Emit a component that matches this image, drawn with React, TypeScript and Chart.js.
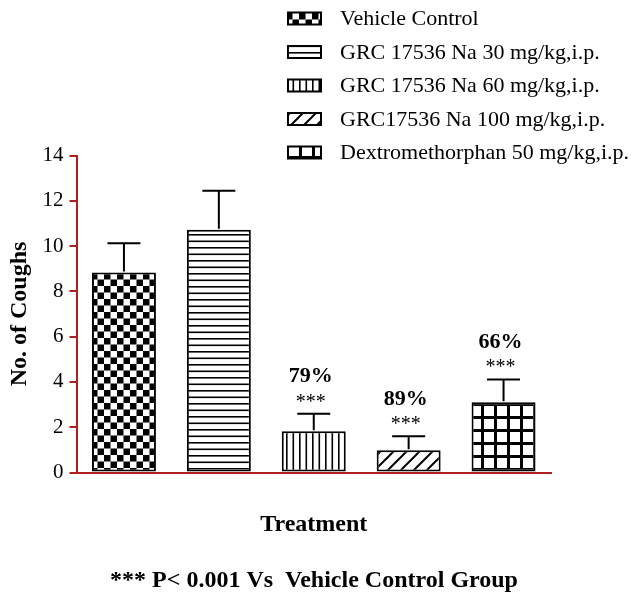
import { useEffect, useRef } from "react";
import { Chart, registerables } from "chart.js";

Chart.register(...registerables);

// ---- data ----
const categories = [
  "Vehicle Control",
  "GRC 17536 Na 30 mg/kg,i.p.",
  "GRC 17536 Na 60 mg/kg,i.p.",
  "GRC17536 Na 100 mg/kg,i.p.",
  "Dextromethorphan 50 mg/kg,i.p.",
];
const coughs = [8.83, 10.72, 1.82, 0.98, 3.1];
const sem = [1.3, 1.72, 0.77, 0.62, 1.01];
const percentLabels = ["", "", "79%", "89%", "66%"];
const significance = ["", "", "***", "***", "***"];
const patternKinds = ["checker", "hlines", "vlines", "diag", "grid"];
const yMin = 0;
const yMax = 14;
const yStep = 2;
const xTitle = "Treatment";
const yTitle = "No. of Coughs";
const footnote = "*** P< 0.001 Vs  Vehicle Control Group";

const SERIF = '"Liberation Serif", "Times New Roman", serif';
const AXIS_RED = "#b01e1e";

function makePattern(kind: string): CanvasPattern | string {
  const c = document.createElement("canvas");
  const ctx = c.getContext("2d");
  if (!ctx) return "#fff";
  if (kind === "checker") {
    c.width = 13;
    c.height = 13;
    ctx.fillStyle = "#fff";
    ctx.fillRect(0, 0, 13, 13);
    ctx.fillStyle = "#000";
    ctx.fillRect(0, 0, 6.5, 6.5);
    ctx.fillRect(6.5, 6.5, 6.5, 6.5);
  } else if (kind === "hlines") {
    c.width = 4;
    c.height = 13;
    ctx.fillStyle = "#fff";
    ctx.fillRect(0, 0, 4, 13);
    ctx.fillStyle = "#000";
    ctx.fillRect(0, 0, 4, 1.6);
    ctx.fillRect(0, 6.5, 4, 1.6);
  } else if (kind === "vlines") {
    c.width = 13;
    c.height = 4;
    ctx.fillStyle = "#fff";
    ctx.fillRect(0, 0, 13, 4);
    ctx.fillStyle = "#000";
    ctx.fillRect(0, 0, 1.6, 4);
    ctx.fillRect(6.5, 0, 1.6, 4);
  } else if (kind === "diag") {
    c.width = 13;
    c.height = 13;
    ctx.fillStyle = "#fff";
    ctx.fillRect(0, 0, 13, 13);
    ctx.strokeStyle = "#000";
    ctx.lineWidth = 2;
    ctx.beginPath();
    ctx.moveTo(-1, 14);
    ctx.lineTo(14, -1);
    ctx.moveTo(-2, 2);
    ctx.lineTo(2, -2);
    ctx.moveTo(11, 15);
    ctx.lineTo(15, 11);
    ctx.stroke();
  } else if (kind === "grid") {
    c.width = 13;
    c.height = 13;
    ctx.fillStyle = "#fff";
    ctx.fillRect(0, 0, 13, 13);
    ctx.fillStyle = "#000";
    ctx.fillRect(0, 0, 3, 13);
    ctx.fillRect(0, 0, 13, 3);
  }
  const p = ctx.createPattern(c, "repeat");
  return p || "#fff";
}

export default function App() {
  const ref = useRef<HTMLCanvasElement | null>(null);

  useEffect(() => {
    if (!ref.current) return;
    const patterns = patternKinds.map((k) => makePattern(k));

    const errorBars = {
      id: "errorBars",
      afterDatasetsDraw(chart: any) {
        const { ctx, scales } = chart;
        const xs = scales.x;
        const ys = scales.y;
        ctx.save();
        ctx.strokeStyle = "#000";
        ctx.lineWidth = 2;
        coughs.forEach((v, i) => {
          const x = xs.getPixelForValue(i);
          const y0 = ys.getPixelForValue(v);
          const y1 = ys.getPixelForValue(v + sem[i]);
          ctx.beginPath();
          ctx.moveTo(x, y0 - 1);
          ctx.lineTo(x, y1);
          ctx.moveTo(x - 16.5, y1);
          ctx.lineTo(x + 16.5, y1);
          ctx.stroke();
        });
        // annotations
        ctx.fillStyle = "#000";
        ctx.textAlign = "center";
        ctx.textBaseline = "alphabetic";
        coughs.forEach((v, i) => {
          const x = xs.getPixelForValue(i) - 3;
          const yTop = ys.getPixelForValue(v + sem[i]);
          if (significance[i]) {
            ctx.font = `20px ${SERIF}`;
            ctx.fillText(significance[i], x, yTop - 6);
          }
          if (percentLabels[i]) {
            ctx.font = `bold 22px ${SERIF}`;
            ctx.fillText(percentLabels[i], x, yTop - 31.5);
          }
        });
        ctx.restore();
      },
    };

    const legendAndNote = {
      id: "legendAndNote",
      afterDraw(chart: any) {
        const { ctx } = chart;
        ctx.save();
        categories.forEach((label, i) => {
          const yc = 18.5 + i * 33.5;
          ctx.fillStyle = patterns[i] as any;
          ctx.fillRect(288, yc - 6, 33, 12);
          ctx.strokeStyle = "#000";
          ctx.lineWidth = 2;
          ctx.strokeRect(288, yc - 6, 33, 12);
          ctx.fillStyle = "#000";
          ctx.font = `22px ${SERIF}`;
          ctx.textAlign = "left";
          ctx.textBaseline = "middle";
          ctx.fillText(label, 340, yc + 1);
        });
        ctx.font = `bold 24px ${SERIF}`;
        ctx.textAlign = "center";
        ctx.textBaseline = "alphabetic";
        ctx.fillText(footnote, 314, 587);
        ctx.restore();
      },
    };

    const chart = new Chart(ref.current, {
      type: "bar",
      data: {
        labels: categories,
        datasets: [
          {
            label: "No. of Coughs",
            data: coughs,
            backgroundColor: patterns as any,
            borderColor: "#000",
            borderWidth: 2,
            borderSkipped: false,
            barPercentage: 0.674,
            categoryPercentage: 1,
          },
        ],
      },
      options: {
        animation: false,
        responsive: true,
        maintainAspectRatio: false,
        layout: { padding: { top: 155.5, left: 0, right: 84, bottom: 52.7 } },
        plugins: {
          legend: { display: false },
          tooltip: { enabled: false },
          title: { display: false },
        },
        scales: {
          x: {
            offset: true,
            grid: { display: false, drawTicks: false },
            ticks: { display: false },
            border: { display: true, color: AXIS_RED, width: 2 },
            title: {
              display: true,
              text: xTitle,
              color: "#000",
              font: { family: SERIF, size: 24, weight: "bold" },
              padding: { top: 38, bottom: 0 },
            },
          },
          y: {
            min: yMin,
            max: yMax,
            afterFit: (scale: any) => {
              scale.width = 76.5;
            },
            ticks: {
              stepSize: yStep,
              color: "#000",
              padding: 6,
              font: { family: SERIF, size: 21 },
            },
            grid: {
              display: true,
              drawOnChartArea: false,
              drawTicks: true,
              tickLength: 7,
              color: AXIS_RED,
              lineWidth: 2,
            },
            border: { display: true, color: AXIS_RED, width: 2 },
            title: {
              display: true,
              text: yTitle,
              color: "#000",
              font: { family: SERIF, size: 24, weight: "bold" },
              padding: { top: 5.6, bottom: 0 },
            },
          },
        },
      },
      plugins: [errorBars, legendAndNote],
    });

    return () => chart.destroy();
  }, []);

  return (
    <div style={{ position: "fixed", left: 0, top: 0, width: 635, height: 592, background: "#fff" }}>
      <canvas ref={ref} />
    </div>
  );
}
